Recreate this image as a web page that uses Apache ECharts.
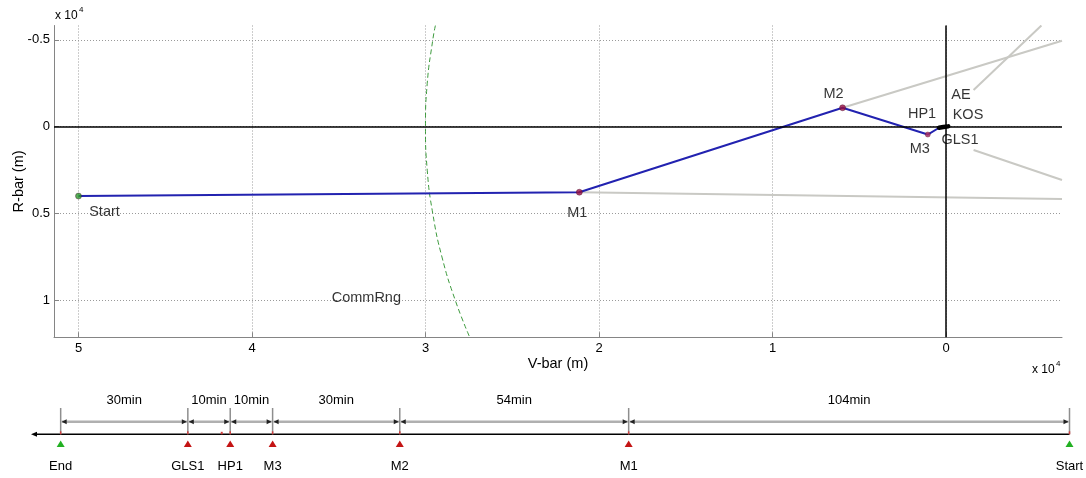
<!DOCTYPE html>
<html>
<head>
<meta charset="utf-8">
<script src="https://cdn.jsdelivr.net/npm/echarts@6/dist/echarts.min.js"></script>
<style>
  html, body { margin: 0; padding: 0; background: #fff; }
  #chart { width: 1086px; height: 478px; }
</style>
</head>
<body>
<div id="chart"></div>
<script>
// ---- Relative-motion plot (target at origin), metres ----
const vbarTicks = [50000, 40000, 30000, 20000, 10000, 0];
const rbarTicks = [-5000, 0, 5000, 10000];

// chaser trajectory through the manoeuvre points
const trajectoryNames = ['Start', 'M1', 'M2', 'M3', 'HP1'];
const trajectoryV = [50000, 21135, 5960, 1050, 400];
const trajectoryR = [3990, 3770, -1090, 450, 60];

// final approach into the target (heavy black)
const finalApproachV = [400, 150, -130];
const finalApproachR = [60, 20, -20];

// docking-area waypoints near the target
const dockingNames = ['HP1', 'KOS', 'AE', 'GLS1'];
const dockingV = [400, 0, 0, 0];
const dockingR = [60, 0, 0, 0];

// grey sight lines: [from, to]
const sightLineV = [[21135, -6686], [5960, -6686], [-1590, -5500], [-1590, -6686]];
const sightLineR = [[3770, 4160], [-1090, -4948], [-2110, -5820], [1340, 3070]];

// communication-range boundary (3e4 m)
const commRngR = [-5820, -5000, -2500, 0, 2500, 5000, 7500, 10000, 12117];
const commRngV = [29430, 29580, 29900, 30000, 29900, 29580, 29050, 28280, 27450];
const commRngLabelV = 33410;
const commRngLabelR = 9860;

// ---- Timeline ----
const timelineEvents = ['Start', 'M1', 'M2', 'M3', 'HP1', 'GLS1', 'End'];
const legMinutes = [104, 54, 30, 10, 10, 30];
const extraMarkMinutes = [200];

// ---------------------------------------------------------------
const FONT = '"Liberation Sans", Arial, Helvetica, sans-serif';
const X_MIN = -6686, X_MAX = 51412;
const Y_MIN = -5823, Y_MAX = 12117;

// cumulative event times (minutes from start)
const eventMinutes = [0];
legMinutes.forEach((m, i) => eventMinutes.push(eventMinutes[i] + m));

// timeline rows (pixel offsets inside the timeline strip)
const ROW = { dur: 20.7, tickTop: 28, dim: 41.7, axis: 54.3, tri: 64, name: 86 };

const labelOffsets = {
  Start: [26, 16], M1: [-2, 21], M2: [-9, -14], M3: [-8, 14],
  HP1: [-17, -14], KOS: [22, -12], AE: [15, -32], GLS1: [14, 13]
};
const labelStyle = (name) => ({
  show: true, position: 'inside', offset: labelOffsets[name],
  formatter: name, color: '#000', fontSize: 14.5, fontFamily: FONT
});

const markerColors = { Start: '#2a9a2a', M1: '#9a1040', M2: '#9a1040', M3: '#b03060' };
const markerSizes = { Start: 6, M1: 6, M2: 6, M3: 5 };

const chart = echarts.init(document.getElementById('chart'), null, { renderer: 'canvas' });

const axisGray = '#858585';

const option = {
  backgroundColor: '#fff',
  animation: false,
  grid: [
    { left: 54, right: 24, top: 25.5, bottom: 140.7, containLabel: false, outerBoundsMode: 'none' },
    { left: 31, width: 1038.5, top: 380, height: 98, containLabel: false, outerBoundsMode: 'none' }
  ],
  xAxis: [
    {
      type: 'value', gridIndex: 0, inverse: true, min: X_MIN, max: X_MAX,
      name: 'V-bar (m)', nameLocation: 'middle', nameGap: 19, nameMoveOverlap: false,
      nameTextStyle: { color: '#000', fontSize: 14.5, fontFamily: FONT },
      axisLine: { show: true, onZero: false, lineStyle: { color: axisGray, width: 1 } },
      axisTick: { show: true, inside: true, length: 5, customValues: vbarTicks, lineStyle: { color: axisGray } },
      axisLabel: {
        customValues: vbarTicks, margin: 5, color: '#000', fontSize: 13, fontFamily: FONT,
        formatter: v => String(v / 10000)
      },
      splitLine: { show: true, lineStyle: { color: '#9a9a9a', type: [1, 2], width: 1 } }
    },
    {
      type: 'value', gridIndex: 1, inverse: true, min: 0, max: 245, show: false,
      splitLine: { show: false }
    }
  ],
  yAxis: [
    {
      type: 'value', gridIndex: 0, inverse: true, min: Y_MIN, max: Y_MAX,
      name: 'R-bar (m)', nameLocation: 'middle', nameGap: 28, nameRotate: 90, nameMoveOverlap: false,
      nameTextStyle: { color: '#000', fontSize: 14.5, fontFamily: FONT },
      axisLine: { show: true, onZero: false, lineStyle: { color: axisGray, width: 1 } },
      axisTick: { show: true, inside: true, length: 5, customValues: rbarTicks, lineStyle: { color: axisGray } },
      axisLabel: {
        customValues: rbarTicks, margin: 4, color: '#000', fontSize: 13, fontFamily: FONT,
        formatter: v => String(v / 10000)
      },
      splitLine: { show: true, lineStyle: { color: '#9a9a9a', type: [1, 2], width: 1 } }
    },
    {
      type: 'value', gridIndex: 1, inverse: true, min: 0, max: 98, show: false,
      splitLine: { show: false }
    }
  ],
  graphic: [
    { type: 'text', left: 55, top: 10, style: { text: 'x 10', fontSize: 12, fontFamily: FONT, fill: '#000' } },
    { type: 'text', left: 79, top: 6, style: { text: '4', fontSize: 8, fontFamily: FONT, fill: '#000' } },
    { type: 'text', left: 1032, top: 364, style: { text: 'x 10', fontSize: 12, fontFamily: FONT, fill: '#000' } },
    { type: 'text', left: 1056, top: 360, style: { text: '4', fontSize: 8, fontFamily: FONT, fill: '#000' } }
  ],
  series: [
    // reference axes through the target
    {
      type: 'line', xAxisIndex: 0, yAxisIndex: 0, data: [], z: 2,
      markLine: {
        silent: true, symbol: 'none', animation: false,
        label: { show: false },
        lineStyle: { color: '#000', width: 1.5, type: 'solid' },
        data: [{ xAxis: 0 }, { yAxis: 0 }]
      }
    },
    // sight lines
    {
      type: 'lines', coordinateSystem: 'cartesian2d', xAxisIndex: 0, yAxisIndex: 0, z: 3,
      lineStyle: { color: '#c9c9c4', width: 2, opacity: 1 },
      data: sightLineV.map((v, i) => ({ coords: [[v[0], sightLineR[i][0]], [v[1], sightLineR[i][1]]] }))
    },
    // communication range
    {
      type: 'line', xAxisIndex: 0, yAxisIndex: 0, smooth: true, showSymbol: false, z: 3,
      lineStyle: { color: '#3d9a3d', width: 1, type: [5, 3] },
      data: commRngV.map((v, i) => [v, commRngR[i]])
    },
    {
      type: 'scatter', xAxisIndex: 0, yAxisIndex: 0, symbolSize: 0, z: 6,
      data: [{ value: [commRngLabelV, commRngLabelR] }],
      label: { show: true, position: 'inside', formatter: 'CommRng', color: '#000', fontSize: 14.5, fontFamily: FONT }
    },
    // trajectory
    {
      type: 'line', xAxisIndex: 0, yAxisIndex: 0, showSymbol: false, z: 4,
      lineStyle: { color: '#2222b0', width: 2 },
      data: trajectoryV.map((v, i) => [v, trajectoryR[i]])
    },
    // final approach
    {
      type: 'line', xAxisIndex: 0, yAxisIndex: 0, showSymbol: false, z: 5,
      lineStyle: { color: '#000', width: 4.5, cap: 'round' },
      data: finalApproachV.map((v, i) => [v, finalApproachR[i]])
    },
    // manoeuvre markers with labels
    {
      type: 'scatter', xAxisIndex: 0, yAxisIndex: 0, z: 6,
      data: trajectoryNames.slice(0, 4).map((n, i) => ({
        name: n, value: [trajectoryV[i], trajectoryR[i]],
        symbolSize: markerSizes[n],
        itemStyle: { color: markerColors[n], borderColor: '#4a1030', borderWidth: 0.5 },
        label: labelStyle(n)
      }))
    },
    // docking waypoint labels
    {
      type: 'scatter', xAxisIndex: 0, yAxisIndex: 0, symbolSize: 0, z: 6,
      data: dockingNames.map((n, i) => ({
        name: n, value: [dockingV[i], dockingR[i]], label: labelStyle(n)
      }))
    },
    // timeline: main axis with arrow
    {
      type: 'custom', xAxisIndex: 1, yAxisIndex: 1, clip: false, z: 3,
      data: [[245, 0]],
      renderItem(params, api) {
        const xl = api.coord([245, 0])[0];
        const xr = api.coord([0, 0])[0];
        const y = api.coord([0, ROW.axis])[1];
        return {
          type: 'group', children: [
            { type: 'line', shape: { x1: xl + 3, y1: y, x2: xr, y2: y }, style: { stroke: '#000', lineWidth: 1.5 } },
            { type: 'polygon', shape: { points: [[xl, y], [xl + 6, y - 2.5], [xl + 6, y + 2.5]] }, style: { fill: '#000' } }
          ]
        };
      }
    },
    // timeline: leg durations
    {
      type: 'custom', xAxisIndex: 1, yAxisIndex: 1, clip: false, z: 3,
      data: legMinutes.map((m, i) => [eventMinutes[i], eventMinutes[i + 1], m]),
      renderItem(params, api) {
        const xa = api.coord([api.value(0), 0])[0];
        const xb = api.coord([api.value(1), 0])[0];
        const xl = Math.min(xa, xb), xr = Math.max(xa, xb);
        const y = api.coord([0, ROW.dim])[1];
        const yt = api.coord([0, ROW.dur])[1];
        return {
          type: 'group', children: [
            { type: 'line', shape: { x1: xl + 1, y1: y, x2: xr - 1, y2: y }, style: { stroke: '#b0b0b0', lineWidth: 2.5 } },
            { type: 'polygon', shape: { points: [[xl + 1, y], [xl + 6, y - 2.5], [xl + 6, y + 2.5]] }, style: { fill: '#222' } },
            { type: 'polygon', shape: { points: [[xr - 1, y], [xr - 6, y - 2.5], [xr - 6, y + 2.5]] }, style: { fill: '#222' } },
            {
              type: 'text', x: (xl + xr) / 2, y: yt,
              style: { text: api.value(2) + 'min', fontSize: 13, fontFamily: FONT, fill: '#000', align: 'center', verticalAlign: 'middle' }
            }
          ]
        };
      }
    },
    // timeline: events
    {
      type: 'custom', xAxisIndex: 1, yAxisIndex: 1, clip: false, z: 4,
      data: eventMinutes.map((t, i) => [t, i]),
      renderItem(params, api) {
        const x = api.coord([api.value(0), 0])[0];
        const yy = v => api.coord([0, v])[1];
        const name = timelineEvents[api.value(1)];
        const endPoint = name === 'Start' || name === 'End';
        const ty = yy(ROW.tri);
        return {
          type: 'group', children: [
            { type: 'line', shape: { x1: x, y1: yy(ROW.tickTop), x2: x, y2: yy(ROW.axis) }, style: { stroke: '#8e8e8e', lineWidth: 1.5 } },
            { type: 'line', shape: { x1: x, y1: yy(ROW.axis) - 3, x2: x, y2: yy(ROW.axis) }, style: { stroke: '#d04040', lineWidth: 1.5 } },
            { type: 'polygon', shape: { points: [[x, ty - 3.5], [x - 4, ty + 3], [x + 4, ty + 3]] }, style: { fill: endPoint ? '#22b022' : '#c41414' } },
            {
              type: 'text', x: x, y: yy(ROW.name),
              style: { text: name, fontSize: 13, fontFamily: FONT, fill: '#000', align: 'center', verticalAlign: 'middle' }
            }
          ]
        };
      }
    },
    // timeline: additional mark
    {
      type: 'custom', xAxisIndex: 1, yAxisIndex: 1, clip: false, z: 4,
      data: extraMarkMinutes.map(t => [t, 0]),
      renderItem(params, api) {
        const x = api.coord([api.value(0), 0])[0];
        const y = api.coord([0, ROW.axis])[1];
        return { type: 'rect', shape: { x: x - 1, y: y - 2.5, width: 2, height: 2.5 }, style: { fill: '#d04040' } };
      }
    }
  ]
};

chart.setOption(option);
</script>
</body>
</html>
